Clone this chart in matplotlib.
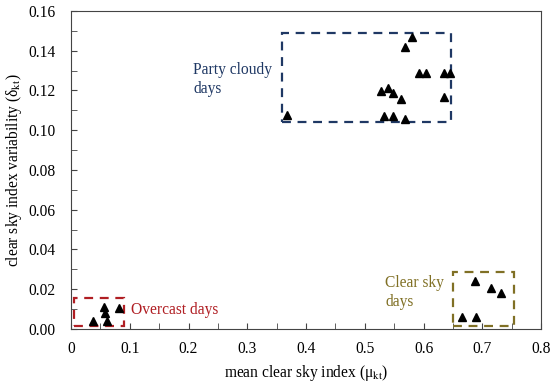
import matplotlib.pyplot as plt
from matplotlib.patches import Rectangle
from matplotlib.ticker import MultipleLocator, FuncFormatter

plt.rcParams['font.family'] = ['Liberation Serif', 'DejaVu Serif']
plt.rcParams['mathtext.fontset'] = 'stix'

# mean clear sky index / clear sky index variability per day
cloudy_mu = [0.368, 0.581, 0.569, 0.592, 0.604, 0.634, 0.645, 0.527, 0.540,
             0.548, 0.562, 0.634, 0.532, 0.548, 0.568]
cloudy_delta = [0.1077, 0.1467, 0.1417, 0.1290, 0.1287, 0.1287, 0.1290, 0.1197,
                0.1214, 0.1186, 0.1157, 0.1166, 0.1073, 0.1073, 0.1055]

overcast_mu = [0.038, 0.057, 0.058, 0.062, 0.082]
overcast_delta = [0.0042, 0.0112, 0.0079, 0.0042, 0.0104]

clear_mu = [0.687, 0.714, 0.732, 0.666, 0.689]
clear_delta = [0.0243, 0.0206, 0.0183, 0.0059, 0.0059]

navy = "#1f3864"
red = "#b01e23"
olive = "#807025"
fs = 11.2

fig = plt.figure(figsize=(5.5, 3.86), dpi=100)
ax = fig.add_axes([0.129, 0.1477, 0.855, 0.8238])

for mu, delta in [(cloudy_mu, cloudy_delta), (overcast_mu, overcast_delta),
                  (clear_mu, clear_delta)]:
    ax.plot(mu, delta, linestyle='none', marker='^', color='black',
            markersize=6, clip_on=False, zorder=3)

# dashed group boxes
def group_box(x0, y0, x1, y1, color):
    ax.add_patch(Rectangle((x0, y0), x1 - x0, y1 - y0, fill=False,
                           edgecolor=color, linestyle=(0, (4, 3)),
                           linewidth=1.6, zorder=2))

group_box(0.359, 0.1044, 0.646, 0.1488, navy)
group_box(0.005, 0.0017, 0.090, 0.0154, red)
group_box(0.650, 0.0017, 0.754, 0.0288, olive)

ax.text(0.208, 0.1345, "Party cloudy\ndays", color=navy, fontsize=fs,
        va='top', ha='left', linespacing=1.25)
ax.text(0.102, 0.0095, "Overcast days", color=red, fontsize=fs,
        va='center', ha='left')
ax.text(0.535, 0.0272, "Clear sky\ndays", color=olive, fontsize=fs,
        va='top', ha='left', linespacing=1.25)

ax.set_xlim(0, 0.8)
ax.set_ylim(0, 0.16)
ax.xaxis.set_major_locator(MultipleLocator(0.1))
ax.xaxis.set_minor_locator(MultipleLocator(0.05))
ax.yaxis.set_major_locator(MultipleLocator(0.02))
ax.yaxis.set_minor_locator(MultipleLocator(0.01))
ax.xaxis.set_major_formatter(FuncFormatter(lambda v, p: "0" if v == 0 else f"{v:.1f}"))
ax.yaxis.set_major_formatter(FuncFormatter(lambda v, p: f"{v:.2f}"))
ax.tick_params(which='both', direction='in', labelsize=fs, color='#444444')
ax.tick_params(which='both', length=4)
ax.tick_params(axis='y', pad=11)
ax.tick_params(axis='x', pad=9)
for s in ax.spines.values():
    s.set_color('#444444')

ax.set_xlabel("mean clear sky index (μ$_{\\mathrm{kt}}$)", fontsize=fs, labelpad=4)
ax.set_ylabel("clear sky index variability (δ$_{\\mathrm{kt}}$)", fontsize=fs, labelpad=3)

fig.savefig("out.png", dpi=100)
